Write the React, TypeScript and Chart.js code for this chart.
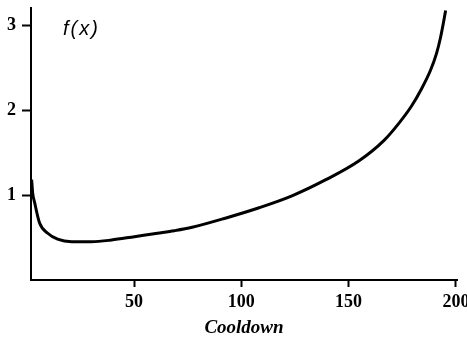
import React, { useEffect, useRef } from "react";
import { Chart, registerables } from "chart.js";

Chart.register(...registerables);

const cooldown = [2.3, 2.8, 3.7, 6.0, 9.8, 14.4, 20.9, 30.2, 39.5, 50.2, 60.9, 68.8, 77.1, 92.9, 108.3, 123.6, 139.4, 154.7, 166.4, 173.3, 179.4, 184.0, 188.2, 191.0, 192.8, 194.2, 195.2];
const fValues = [1.18, 1.02, 0.91, 0.67, 0.55, 0.48, 0.45, 0.45, 0.47, 0.51, 0.55, 0.58, 0.62, 0.73, 0.85, 0.99, 1.18, 1.40, 1.64, 1.84, 2.05, 2.25, 2.47, 2.67, 2.85, 3.03, 3.17];
const xTicks = [50, 100, 150, 200];
const yTicks = [1, 2, 3];
const xTitle = "Cooldown";
const curveLabel = "f(x)";

const SERIF = '"Liberation Serif", "Times New Roman", serif';

const labelPlugin = {
  id: "curveLabel",
  afterDraw(chart: any) {
    const { ctx, chartArea } = chart;
    ctx.save();
    ctx.font = 'italic 20px "Liberation Sans", Arial, sans-serif';
    try {
      (ctx as any).letterSpacing = "2px";
    } catch (e) {}
    ctx.fillStyle = "#000";
    ctx.textBaseline = "alphabetic";
    ctx.fillText(curveLabel, chartArea.left + 32, chartArea.top + 27);
    ctx.restore();
  },
};

export default function App() {
  const ref = useRef<HTMLCanvasElement>(null);
  useEffect(() => {
    document.body.style.margin = "0";
    const chart = new Chart(ref.current!, {
      type: "line",
      data: {
        datasets: [
          {
            data: cooldown.map((x, i) => ({ x, y: fValues[i] })),
            borderColor: "#000",
            borderWidth: 3,
            pointRadius: 0,
            cubicInterpolationMode: "monotone",
            fill: false,
          },
        ],
      },
      options: {
        responsive: false,
        animation: false,
        layout: { padding: { top: 8, right: 10, left: 0, bottom: 0 } },
        plugins: { legend: { display: false }, tooltip: { enabled: false } },
        scales: {
          x: {
            type: "linear",
            min: 2,
            max: 200.5,
            afterBuildTicks: (s: any) => {
              s.ticks = xTicks.map((v) => ({ value: v }));
            },
            afterFit: (s: any) => {
              s.height = 59;
              s.paddingLeft = 0;
              s.paddingRight = 0;
            },
            grid: { drawOnChartArea: false, drawTicks: true, tickLength: 7, tickColor: "#000", tickWidth: 2 },
            border: { display: true, color: "#000", width: 2 },
            ticks: {
              color: "#000",
              padding: 5,
              maxRotation: 0,
              font: { family: SERIF, size: 18, weight: "bold" },
            },
            title: {
              display: true,
              text: xTitle,
              color: "#000",
              padding: { top: 0, bottom: 0 },
              font: { family: SERIF, size: 19, weight: "bold", style: "italic" },
            },
          },
          y: {
            type: "linear",
            min: 0,
            max: 3.2,
            afterBuildTicks: (s: any) => {
              s.ticks = yTicks.map((v) => ({ value: v }));
            },
            afterFit: (s: any) => {
              s.width = 31;
              s.paddingTop = 0;
              s.paddingBottom = 0;
            },
            grid: { drawOnChartArea: false, drawTicks: true, tickLength: 9, tickColor: "#000", tickWidth: 2 },
            border: { display: true, color: "#000", width: 2 },
            ticks: {
              color: "#000",
              padding: 6,
              font: { family: SERIF, size: 18, weight: "bold" },
            },
          },
        },
      },
      plugins: [labelPlugin],
    } as any);
    return () => chart.destroy();
  }, []);
  return (
    <div style={{ width: 467, height: 339 }}>
      <canvas ref={ref} width={467} height={339} />
    </div>
  );
}
